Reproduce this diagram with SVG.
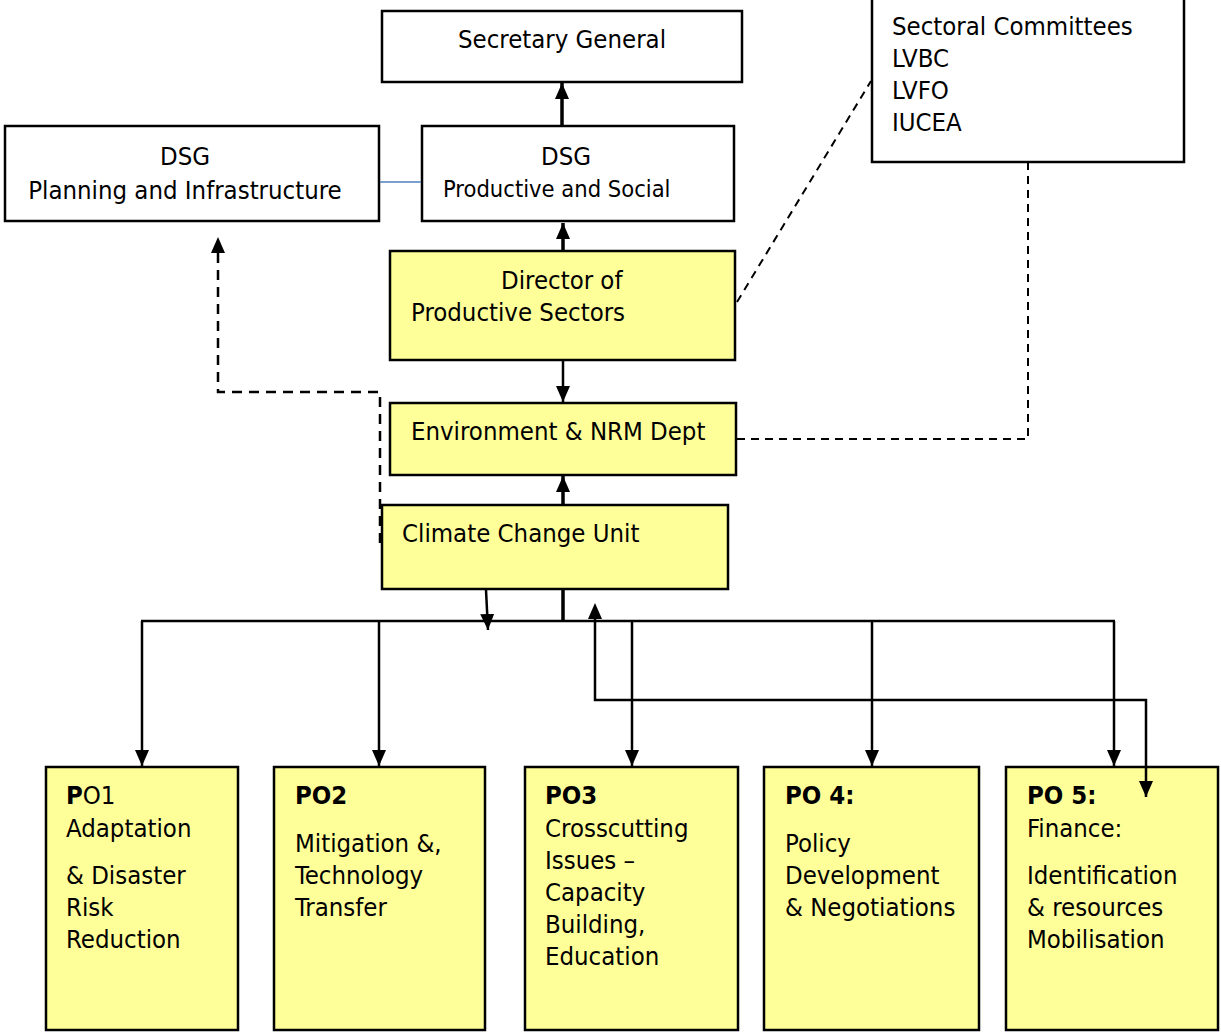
<svg xmlns="http://www.w3.org/2000/svg" width="1221" height="1032" viewBox="0 0 1221 1032">
<style>
.box{fill:#fff;stroke:#000;stroke-width:2.5}
.ybox{fill:#FFFF99;stroke:#000;stroke-width:2.5}
text{font-family:"DejaVu Sans Condensed","DejaVu Sans",sans-serif;font-size:25.5px;fill:#000}
.c{text-anchor:middle}
.b{font-weight:bold}
.ln{fill:none;stroke:#000;stroke-width:2.5}
.thick{fill:none;stroke:#000;stroke-width:3.5}
.dash{fill:none;stroke:#000;stroke-width:2;stroke-dasharray:8,6}
.dash2{fill:none;stroke:#000;stroke-width:2.5;stroke-dasharray:10,7}
</style>
<defs>
<marker id="ah" viewBox="0 0 16 14" refX="16" refY="7" markerWidth="16" markerHeight="14" markerUnits="userSpaceOnUse" orient="auto">
<path d="M0,0 L16,7 L0,14 z" fill="#000"/>
</marker>
</defs>
<g id="secretary-general">
<rect class="box" x="382" y="11" width="360" height="71"/>
<text class="c" x="562" y="48">Secretary General</text>
</g>
<g id="dsg-planning">
<rect class="box" x="5" y="126" width="374" height="95"/>
<text class="c" x="185" y="165">DSG</text>
<text class="c" x="185" y="199">Planning and Infrastructure</text>
</g>
<g id="dsg-productive">
<rect class="box" x="422" y="126" width="312" height="95"/>
<text class="c" x="566" y="165">DSG</text>
<text x="443" y="197" style="font-size:23.5px">Productive and Social</text>
</g>
<g id="sectoral-committees">
<rect class="box" x="872" y="-3" width="312" height="165"/>
<text x="892" y="35">Sectoral Committees</text>
<text x="892" y="67">LVBC</text>
<text x="892" y="99">LVFO</text>
<text x="892" y="131">IUCEA</text>
</g>
<g id="director">
<rect class="ybox" x="390" y="251" width="345" height="109"/>
<text x="501" y="289">Director of</text>
<text x="411" y="321">Productive Sectors</text>
</g>
<g id="env-nrm">
<rect class="ybox" x="390" y="403" width="346" height="72"/>
<text x="411" y="440">Environment &amp; NRM Dept</text>
</g>
<g id="climate-change-unit">
<rect class="ybox" x="382" y="505" width="346" height="84"/>
<text x="402" y="542">Climate Change Unit</text>
</g>
<g id="po1">
<rect class="ybox" x="46" y="767" width="192" height="263"/>
<text x="66" y="804"><tspan class="b">P</tspan>O1</text>
<text x="66" y="837">Adaptation</text>
<text x="66" y="884">&amp; Disaster</text>
<text x="66" y="916">Risk</text>
<text x="66" y="948">Reduction</text>
</g>
<g id="po2">
<rect class="ybox" x="274" y="767" width="211" height="263"/>
<text class="b" x="295" y="804">PO2</text>
<text x="295" y="852">Mitigation &amp;,</text>
<text x="295" y="884">Technology</text>
<text x="295" y="916">Transfer</text>
</g>
<g id="po3">
<rect class="ybox" x="525" y="767" width="213" height="263"/>
<text class="b" x="545" y="804">PO3</text>
<text x="545" y="837">Crosscutting</text>
<text x="545" y="869">Issues –</text>
<text x="545" y="901">Capacity</text>
<text x="545" y="933">Building,</text>
<text x="545" y="965">Education</text>
</g>
<g id="po4">
<rect class="ybox" x="764" y="767" width="215" height="263"/>
<text class="b" x="785" y="804">PO 4:</text>
<text x="785" y="852">Policy</text>
<text x="785" y="884">Development</text>
<text x="785" y="916">&amp; Negotiations</text>
</g>
<g id="po5">
<rect class="ybox" x="1006" y="767" width="212" height="263"/>
<text class="b" x="1027" y="804">PO 5:</text>
<text x="1027" y="837">Finance:</text>
<text x="1027" y="884">Identification</text>
<text x="1027" y="916">&amp; resources</text>
<text x="1027" y="948">Mobilisation</text>
</g>
<g id="connectors">
<line class="thick" x1="562" y1="125" x2="562" y2="83" marker-end="url(#ah)"/>
<line x1="380" y1="182" x2="421" y2="182" stroke="#4F81BD" stroke-width="1.5"/>
<line class="thick" x1="563" y1="250" x2="563" y2="223" marker-end="url(#ah)"/>
<line class="ln" x1="563" y1="361" x2="563" y2="402" marker-end="url(#ah)"/>
<line class="thick" x1="563" y1="504" x2="563" y2="476" marker-end="url(#ah)"/>
<polyline class="dash2" points="380,543 380,392 218,392 218,250"/>
<path d="M211,253 L218,237 L225,253 z" fill="#000"/>
<line class="dash" x1="737" y1="302" x2="871" y2="81"/>
<polyline class="dash" points="737,439 1028,439 1028,163"/>
<line class="ln" x1="486" y1="590" x2="488" y2="630" marker-end="url(#ah)"/>
<line class="thick" x1="563" y1="590" x2="563" y2="621"/>
<line class="ln" x1="141" y1="621" x2="1115" y2="621"/>
<line class="ln" x1="142" y1="621" x2="142" y2="766" marker-end="url(#ah)"/>
<line class="ln" x1="379" y1="621" x2="379" y2="766" marker-end="url(#ah)"/>
<line class="ln" x1="632" y1="621" x2="632" y2="766" marker-end="url(#ah)"/>
<line class="ln" x1="872" y1="621" x2="872" y2="766" marker-end="url(#ah)"/>
<line class="ln" x1="1114" y1="621" x2="1114" y2="766" marker-end="url(#ah)"/>
<polyline class="ln" points="595,616 595,700 1146,700 1146,797" marker-end="url(#ah)"/>
<path d="M588,619 L595,603 L602,619 z" fill="#000"/>
</g>
</svg>
